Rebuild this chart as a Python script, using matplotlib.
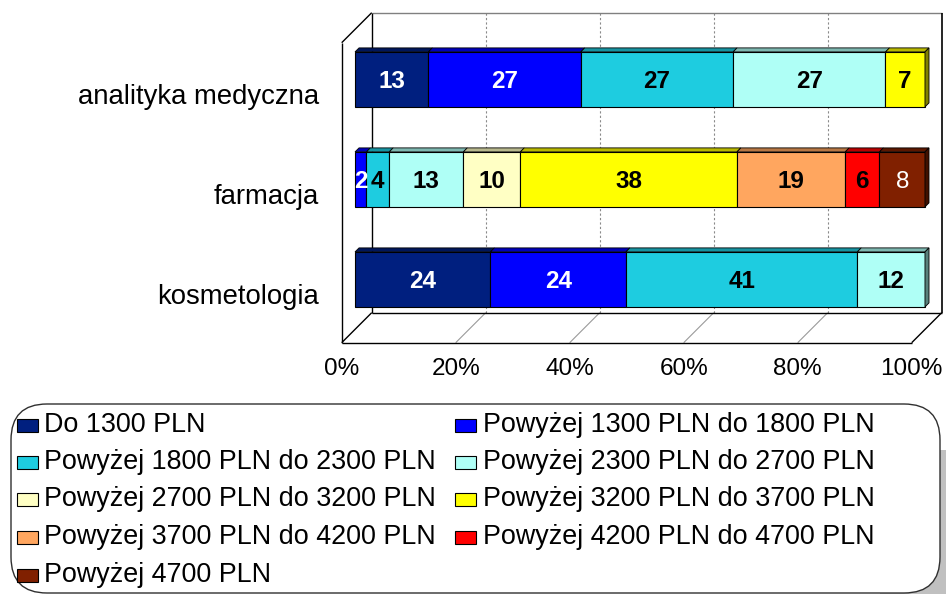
import matplotlib
matplotlib.use("Agg")
import matplotlib.pyplot as plt
from matplotlib.patches import Rectangle, Polygon, FancyBboxPatch
import numpy as np

plt.rcParams['font.family'] = ['Liberation Sans', 'DejaVu Sans']

# ---------------- data ----------------
categories = ["kosmetologia", "farmacja", "analityka medyczna"]   # bottom -> top
series_labels = [
    "Do 1300 PLN",
    "Powyżej 1300 PLN do 1800 PLN",
    "Powyżej 1800 PLN do 2300 PLN",
    "Powyżej 2300 PLN do 2700 PLN",
    "Powyżej 2700 PLN do 3200 PLN",
    "Powyżej 3200 PLN do 3700 PLN",
    "Powyżej 3700 PLN do 4200 PLN",
    "Powyżej 4200 PLN do 4700 PLN",
    "Powyżej 4700 PLN",
]
# values per series, in order of categories (kosmetologia, farmacja, analityka medyczna)
do_1300      = [24, 0, 13]
s_1300_1800  = [24, 2, 27]
s_1800_2300  = [41, 4, 27]
s_2300_2700  = [12, 13, 27]
s_2700_3200  = [0, 10, 0]
s_3200_3700  = [0, 38, 7]
s_3700_4200  = [0, 19, 0]
s_4200_4700  = [0, 6, 0]
s_4700_plus  = [0, 8, 0]
series_values = [do_1300, s_1300_1800, s_1800_2300, s_2300_2700, s_2700_3200,
                 s_3200_3700, s_3700_4200, s_4200_4700, s_4700_plus]
series_colors = ["#001F7F", "#0000FF", "#1ECCE0", "#AFFFF6", "#FFFFC4",
                 "#FFFF00", "#FFA65F", "#FF0000", "#802000"]
label_colors = ["white", "white", "black", "black", "black",
                "black", "black", "black", "white"]
label_weights = ["bold"] * 8 + ["normal"]
x_ticks = [0, 20, 40, 60, 80, 100]

# ---------------- geometry (pixels) ----------------
W, H = 946, 594
X0, SX = 355.0, 5.70      # bar front plane: x px of 0 %, px per %
Y0, SY = 279.4, 100.0     # bar front plane: y px (from top) of first category, px per category
DEPTH = 30.0              # full depth of the 3D box (px)
DBAR = 13.3               # depth of bar front face (px)
BAR_T = 4.0               # bar thickness in depth (px)
BAR_H = 0.55              # bar height in category units

fig = plt.figure(figsize=(W / 100, H / 100), dpi=100)
ax = fig.add_axes([0, 0, 1, 1])
ax.set_xlim(-X0 / SX, (W - X0) / SX)
ax.set_ylim((Y0 - H) / SY, Y0 / SY)
ax.axis('off')


def P(x, y, depth):
    """data coords of a point given in front-plane units, at a depth (px)."""
    d = depth - DBAR
    return x + d / SX, y + d / SY


def line(pts, **kw):
    xs, ys = zip(*pts)
    ax.plot(xs, ys, solid_capstyle='butt', **kw)


ylo, yhi = -0.5, len(categories) - 0.5

# floor gridlines (diagonals)
for t in x_ticks:
    col = 'black' if t in (0, 100) else '#9a9a9a'
    lw = 1.0 if t in (0, 100) else 0.8
    line([P(t, ylo, 0), P(t, ylo, DEPTH)], color=col, lw=lw, zorder=2)
# back wall gridlines (dashed)
for t in x_ticks[1:-1]:
    line([P(t, ylo, DEPTH), P(t, yhi, DEPTH)], color='#8a8a8a', lw=0.8,
         ls=(0, (2, 2)), zorder=1)
# back wall frame
line([P(0, yhi, DEPTH), P(100, yhi, DEPTH)], color='#808080', lw=1.0, zorder=2)
line([P(0, ylo, DEPTH), P(0, yhi, DEPTH)], color='black', lw=1.0, zorder=2)
line([P(100, ylo, DEPTH), P(100, yhi, DEPTH)], color='black', lw=1.2, zorder=2)
line([P(0, ylo, DEPTH), P(100, ylo, DEPTH)], color='black', lw=1.0, zorder=2)
# floor front edge, left wall
line([P(0, ylo, 0), P(100, ylo, 0)], color='black', lw=1.0, zorder=2)
line([P(0, ylo, 0), P(0, yhi, 0)], color='black', lw=1.0, zorder=2)
line([P(0, yhi, 0), P(0, yhi, DEPTH)], color='black', lw=1.0, zorder=2)


def shade(c, f):
    r, g, b = matplotlib.colors.to_rgb(c)
    return (r * f, g * f, b * f)


ddx, ddy = BAR_T / SX, BAR_T / SY
vals = np.array(series_values, dtype=float)           # (series, category)
totals = vals.sum(axis=0)
for ci, cat in enumerate(categories):
    pct = vals[:, ci] / totals[ci] * 100
    left = 0.0
    present = [i for i in range(len(series_labels)) if vals[i, ci] > 0]
    last = present[-1]
    y0b, y1b = ci - BAR_H / 2, ci + BAR_H / 2
    for si in present:
        w = pct[si]
        c = series_colors[si]
        ax.add_patch(Rectangle((left, y0b), w, BAR_H, facecolor=c,
                               edgecolor='black', lw=0.8, zorder=5))
        ax.add_patch(Polygon([(left, y1b), (left + w, y1b), (left + w + ddx, y1b + ddy),
                              (left + ddx, y1b + ddy)], closed=True,
                             facecolor=shade(c, 0.72), edgecolor='black', lw=0.6, zorder=5))
        if si == last:
            ax.add_patch(Polygon([(left + w, y0b), (left + w, y1b),
                                  (left + w + ddx, y1b + ddy), (left + w + ddx, y0b + ddy)],
                                 closed=True, facecolor=shade(c, 0.5),
                                 edgecolor='black', lw=0.6, zorder=5))
        ax.text(left + w / 2, ci - 8.7 / SY, f"{int(vals[si, ci])}", ha='center',
                va='baseline', fontsize=17.5, fontweight=label_weights[si],
                color=label_colors[si], zorder=6)
        left += w

# x tick labels (front plane, depth 0)
for t in x_ticks:
    x, y = P(t, ylo, 0)
    ax.text(x, y - 26 / SY, f"{t}%", ha='center', va='center', fontsize=17.5)

# category labels
for ci, cat in enumerate(categories):
    x, y = P(0, ci, 0)
    ax.text(x - 23 / SX, y - 11 / SY, cat, ha='right', va='baseline', fontsize=19.8)

# ---------------- legend (manual, pixel layout) ----------------
def inch(px, py):
    return px / 100, (H - py) / 100

tr = fig.dpi_scale_trans
fig.patches.append(Rectangle(inch(880, 600), 0.8, 1.5, transform=tr,
                             facecolor='#c0c0c0', edgecolor='none', zorder=0))
bx, by = inch(11, 593)
fig.patches.append(FancyBboxPatch((bx, by), (940 - 11) / 100, (593 - 404) / 100,
                                  boxstyle="round,pad=0,rounding_size=0.36",
                                  transform=tr, facecolor='white', edgecolor='#303030',
                                  lw=1.0, zorder=1))
row_y = [425, 462, 499, 537, 575]
col_marker_x = [17, 455]
col_text_x = [44, 483]
for i, (lab, c) in enumerate(zip(series_labels, series_colors)):
    r, cidx = divmod(i, 2)
    py = row_y[r]
    mx, my = inch(col_marker_x[cidx], py + 6.5)
    fig.patches.append(Rectangle((mx, my), 0.21, 0.13, transform=tr, facecolor=c,
                                 edgecolor='black', lw=0.8, zorder=2))
    tx, ty = inch(col_text_x[cidx], py)
    fig.text(tx, ty, lab, transform=tr, ha='left', va='center', fontsize=19.4, zorder=3)

fig.savefig("out.png", dpi=100)
